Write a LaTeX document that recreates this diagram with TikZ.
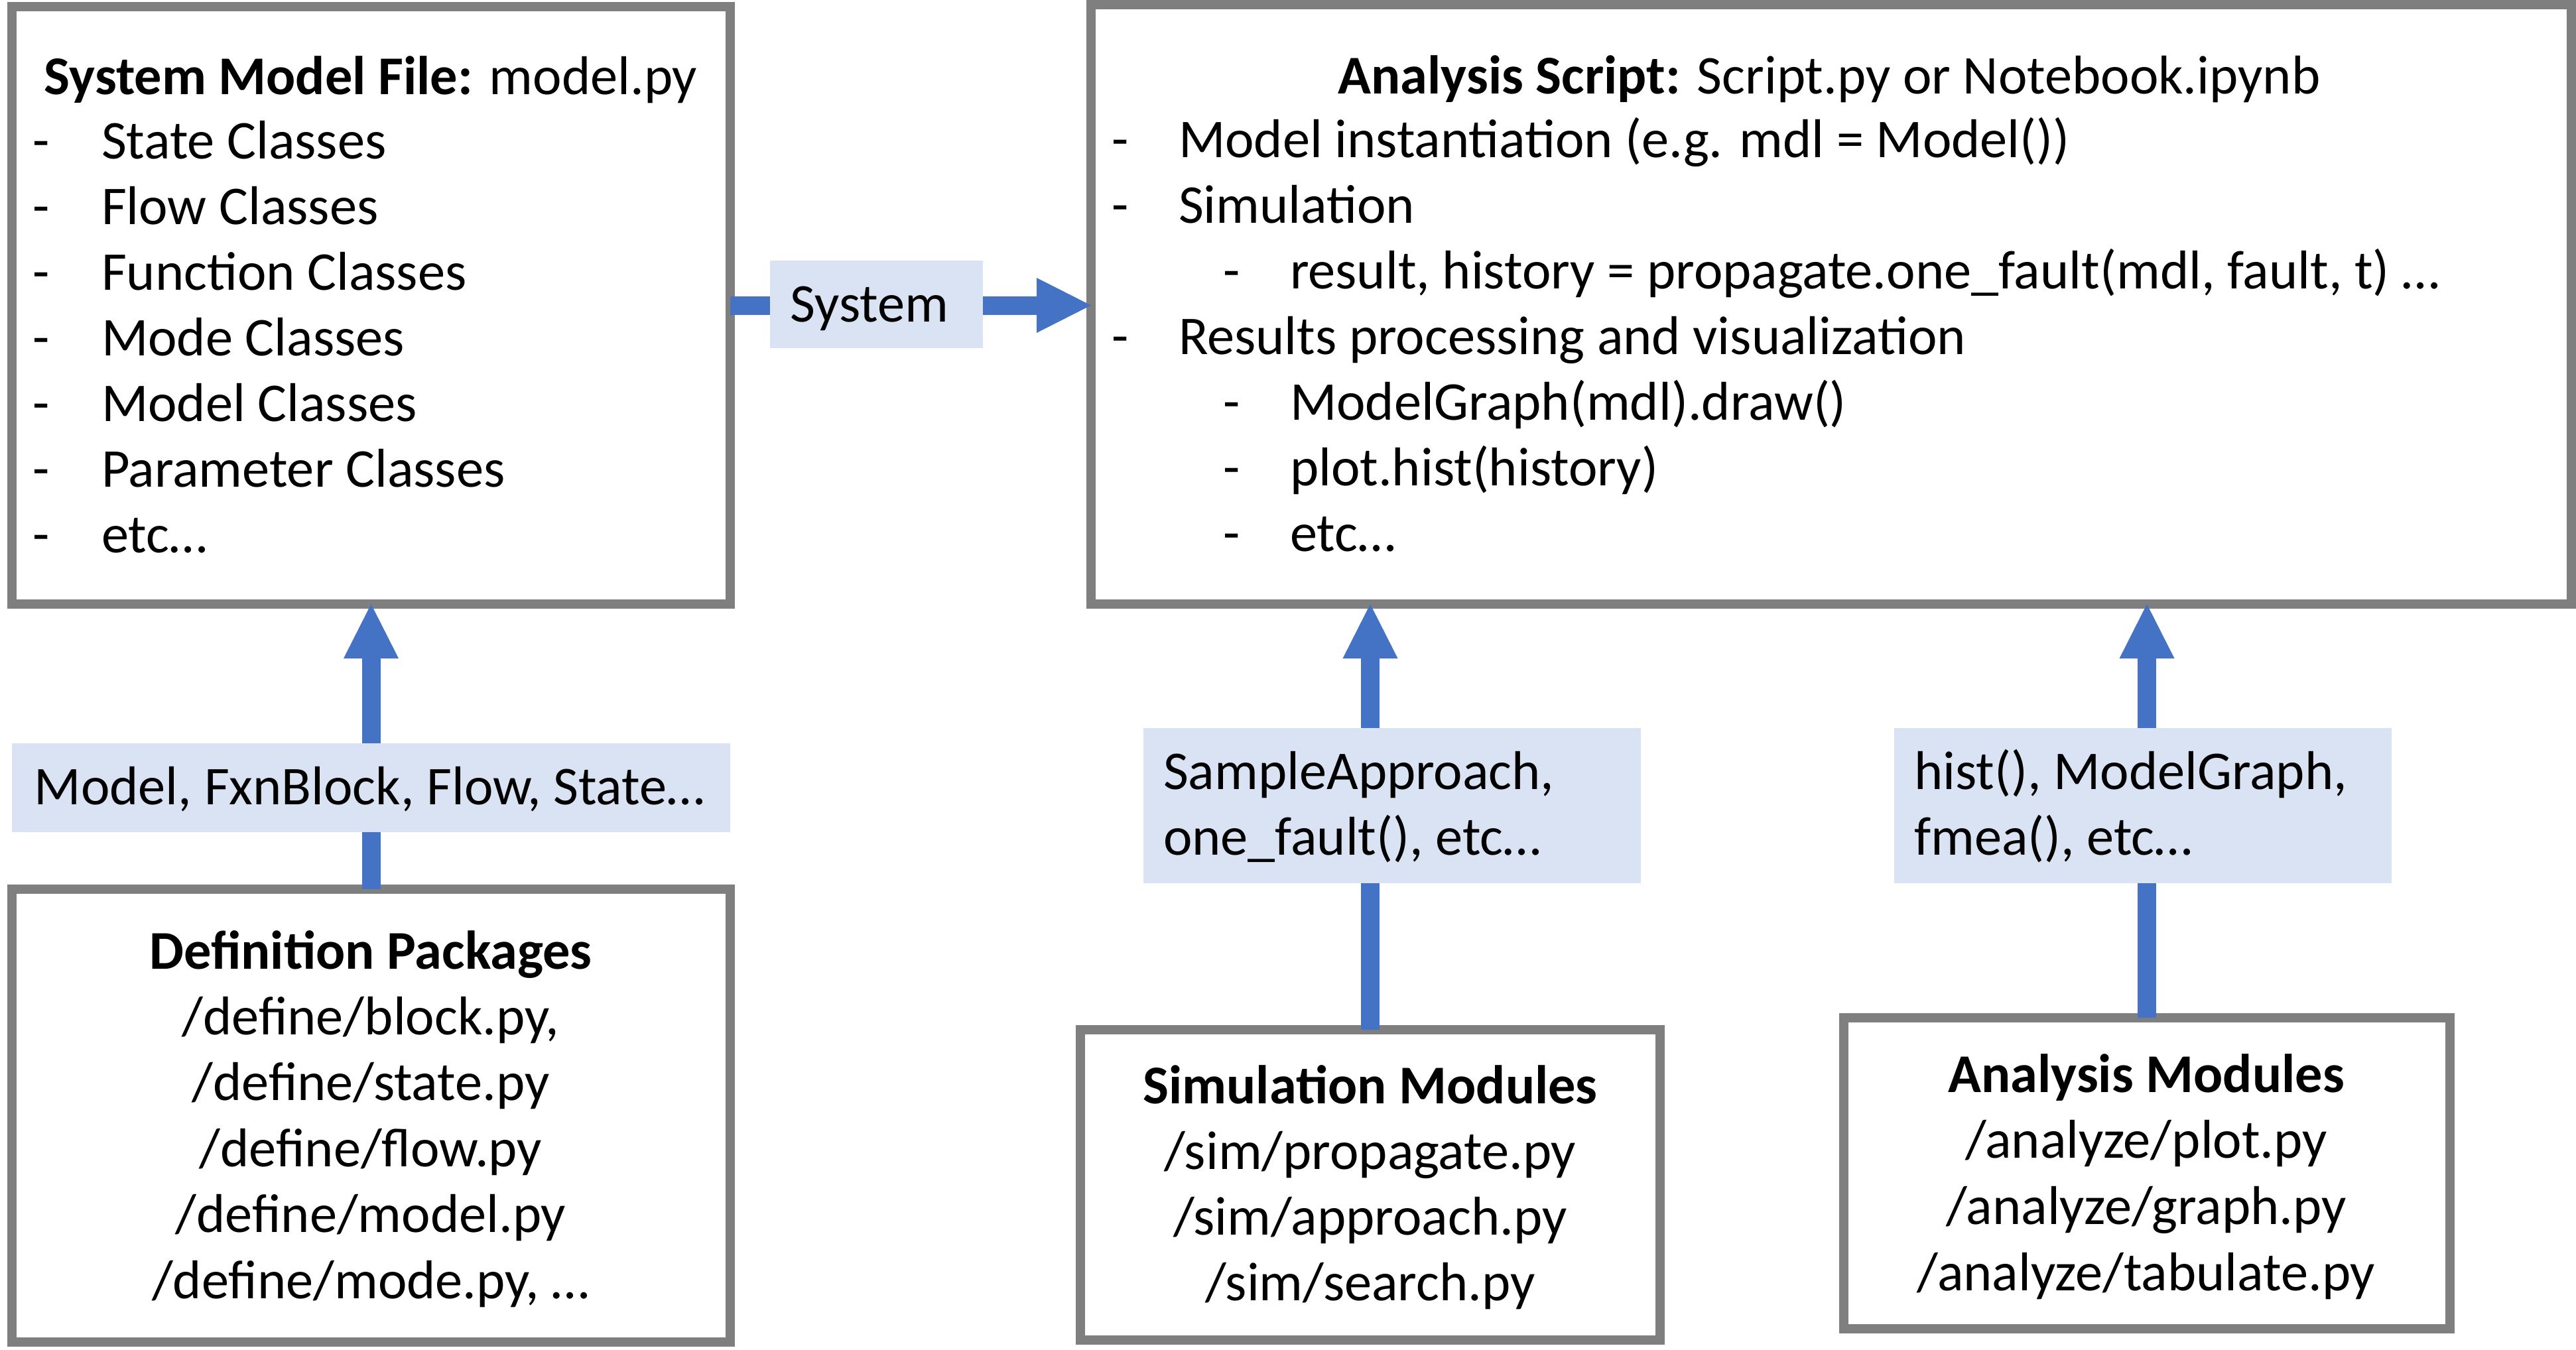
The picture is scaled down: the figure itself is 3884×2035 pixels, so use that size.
\documentclass[tikz,border=0pt]{standalone}
\usepackage{fontspec}
\setmainfont{Carlito}
\usetikzlibrary{arrows.meta}
\definecolor{boxgray}{HTML}{7F7F7F}
\definecolor{arrowblue}{HTML}{4472C4}
\definecolor{labelfill}{HTML}{DAE3F3}
\begin{document}
\begin{tikzpicture}[x=0.25pt,y=-0.25pt,
  sz/.style 2 args={minimum width=#1*0.25pt, minimum height=#2*0.25pt},
  box/.style={draw=boxgray, line width=3.5pt, fill=white, inner sep=0pt, outer sep=0pt},
  lbl/.style={fill=labelfill, inner sep=0pt, outer sep=0pt},
  txt/.style={inner sep=0pt, outer sep=0pt, font=\fontsize{20.6pt}{24.75pt}\selectfont},
  conn/.style={draw=arrowblue, line width=7pt, -{Triangle[length=20.5pt,width=20.75pt,line width=0pt]}},
]
\useasboundingbox (0,0) rectangle (3884,2035);

% boxes
\node[box, sz={1083}{901}] (A) at (559.5,460.5) {};
\node[box, sz={2232}{904}] (B) at (2761,459) {};
\node[box, sz={1083}{683}] (C) at (559.5,1682.5) {};
\node[box, sz={874}{468}] (D) at (2066,1787) {};
\node[box, sz={914}{469}] (E) at (3237,1769.5) {};

% connectors
\draw[conn] (A.east) -- (A.east -| B.west);
\draw[conn] (C.north) -- (A.south);
\draw[conn] (D.north) -- (D.north |- B.south);
\draw[conn] (E.north) -- (E.north |- B.south);

% connector labels
\node[lbl, sz={321}{132}] (lsys) at (1321.5,459) {};
\node[lbl, sz={1083}{134}] (lmod) at (559.5,1188) {};
\node[lbl, sz={750}{234}] (lsim) at (2099,1215) {};
\node[lbl, sz={750}{234}] (lana) at (3231,1215) {};

\node[txt, anchor=base] (tsys) at (1311,485) {System};
\node[txt, anchor=base] (tmod) at (557,1213) {Model, FxnBlock, Flow, State…};
\node[txt, anchor=base west] (tsim1) at (1754,1190) {SampleApproach,};
\node[txt, anchor=base west] (tsim2) at (1754,1289) {one\_fault(), etc…};
\node[txt, anchor=base west] (tana1) at (2886,1190) {hist(), ModelGraph,};
\node[txt, anchor=base west] (tana2) at (2886,1289) {fmea(), etc…};

% System Model File
\node[txt, anchor=base] (ta0) at (559,142) {\textbf{System Model File:} model.py};
\foreach \s [count=\i] in {State Classes, Flow Classes, Function Classes, Mode Classes, Model Classes, Parameter Classes, etc…} {
  \node[txt, anchor=base west] (da\i) at (50,{140+99*\i}) {-};
  \node[txt, anchor=base west] (ta\i) at (153,{140+99*\i}) {\s};
}

% Analysis Script
\node[txt, anchor=base] (tb0) at (2758,141) {\textbf{Analysis Script:} Script.py or Notebook.ipynb};
\foreach \lv/\s [count=\i] in {1/{Model instantiation (e.g. mdl = Model())}, 1/{Simulation}, 2/{result, history = propagate.one\_fault(mdl, fault, t) …}, 1/{Results processing and visualization}, 2/{ModelGraph(mdl).draw()}, 2/{plot.hist(history)}, 2/{etc…}} {
  \node[txt, anchor=base west] (db\i) at ({1676+168*(\lv-1)},{138+99*\i}) {-};
  \node[txt, anchor=base west] (tb\i) at ({1777+168*(\lv-1)},{138+99*\i}) {\s};
}

% Definition Packages
\node[txt, anchor=base] (tc0) at (559,1461) {\textbf{Definition Packages}};
\foreach \s [count=\i] in {{/define/block.py,}, {/define/state.py}, {/define/flow.py}, {/define/model.py}, {/define/mode.py, …}} {
  \node[txt, anchor=base] (tc\i) at (559,{1461+99.4*\i}) {\s};
}

% Simulation Modules
\node[txt, anchor=base] (td0) at (2066,1664) {\textbf{Simulation Modules}};
\foreach \s [count=\i] in {{/sim/propagate.py}, {/sim/approach.py}, {/sim/search.py}} {
  \node[txt, anchor=base] (td\i) at (2066,{1664+99.3*\i}) {\s};
}

% Analysis Modules
\node[txt, anchor=base] (te0) at (3236,1647) {\textbf{Analysis Modules}};
\foreach \s [count=\i] in {{/analyze/plot.py}, {/analyze/graph.py}, {/analyze/tabulate.py}} {
  \node[txt, anchor=base] (te\i) at (3236,{1647+99.7*\i}) {\s};
}
\end{tikzpicture}
\end{document}
